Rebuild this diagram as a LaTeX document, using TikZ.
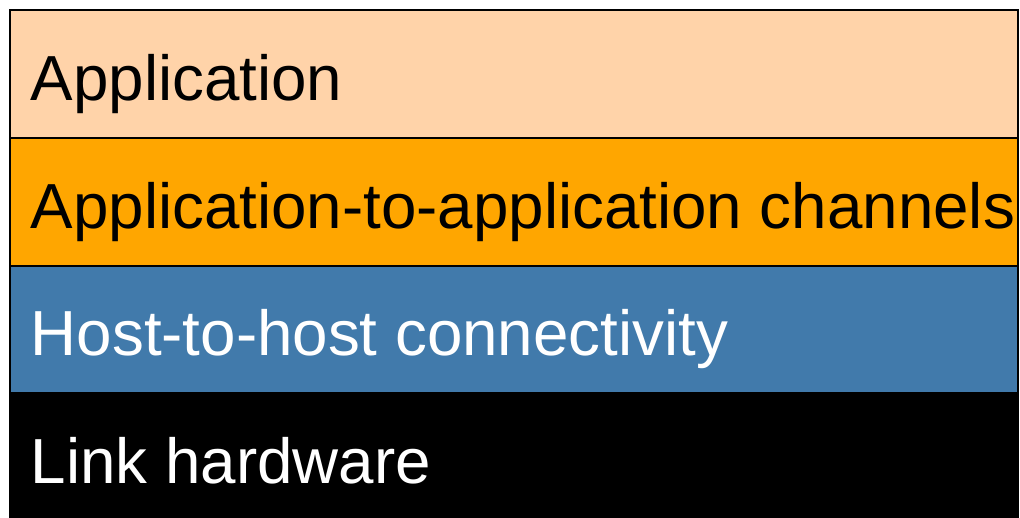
\documentclass[tikz,border=0pt]{standalone}
\usepackage{fontspec}
\setmainfont{Liberation Sans}
\usepackage{tikz}
\definecolor{peach}{RGB}{255,211,169}
\definecolor{chanorange}{RGB}{255,166,0}
\definecolor{hostblue}{RGB}{65,122,171}

\begin{document}
\begin{tikzpicture}[x=1pt,y=-1pt, line width=1.5pt,
  layerbox/.style={draw=black},
  layertext/.style={anchor=base west, inner sep=0pt, font=\fontsize{63.7}{76}\selectfont}]
\useasboundingbox (0,0) rectangle (1020,517);
% layers, top to bottom
\filldraw[layerbox, fill=peach] (10,10) rectangle (1018,138);
\filldraw[layerbox, fill=chanorange] (10,138) rectangle (1018,266);
\filldraw[layerbox, fill=hostblue] (10,266) rectangle (1018,393);
\filldraw[layerbox, fill=black] (10,393) rectangle (1018,518);
\node (app) at (30,100) [layertext, text=black] {Application};
\node (chan) at (30,228) [layertext, text=black] {Application-to-application channels};
\node (host) at (30,355) [layertext, text=white] {Host-to-host connectivity};
\node (link) at (30,483) [layertext, text=white] {Link hardware};
\end{tikzpicture}
\end{document}
